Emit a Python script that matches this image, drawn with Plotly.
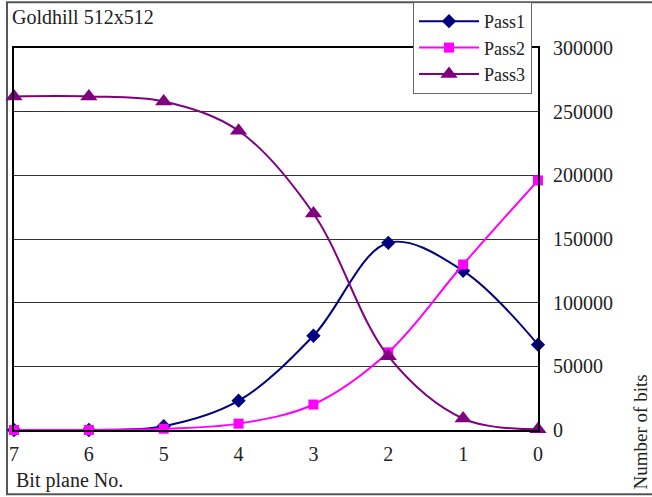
import plotly.graph_objects as go

# Bit planes, most significant first
bit_planes = [7, 6, 5, 4, 3, 2, 1, 0]
tick_labels = ["7", "6", "5", "4", "3", "2", "1", "0"]

# Number of bits produced by each coding pass per bit plane
pass1 = [0, 0, 3000, 23000, 74000, 147000, 125000, 67000]
pass2 = [0, 0, 1000, 5000, 20000, 61000, 130000, 196000]
pass3 = [262000, 262000, 258000, 235000, 170000, 58000, 9000, 500]

series = [
    ("Pass1", pass1, "#000080", "diamond", 11),
    ("Pass2", pass2, "#FF00FF", "square", 10),
    ("Pass3", pass3, "#800080", "triangle-up", 15),
]

FONT = "Liberation Serif"
TEXT = "#222"

fig = go.Figure()
for name, vals, color, symbol, size in series:
    fig.add_trace(go.Scatter(
        x=bit_planes, y=vals, name=name, mode="lines+markers",
        line=dict(color=color, width=2, shape="spline", smoothing=1.0),
        marker=dict(symbol=symbol, size=size, color=color),
        cliponaxis=False,
    ))

fig.update_layout(
    width=652, height=497,
    margin=dict(l=14, r=114, t=48, b=67, autoexpand=False),
    paper_bgcolor="white", plot_bgcolor="white",
    font=dict(family=FONT, size=20, color=TEXT),
    showlegend=True,
    legend=dict(
        xref="container", yref="container",
        x=413 / 652, y=1 - 2 / 497, xanchor="left", yanchor="top",
        bgcolor="white", bordercolor="#666", borderwidth=1,
        font=dict(family=FONT, size=18, color=TEXT),
        itemwidth=60, tracegroupgap=0,
    ),
    xaxis=dict(
        range=[7, 0], tickvals=bit_planes, ticktext=tick_labels,
        showgrid=False, zeroline=False,
        showline=True, linecolor="black", linewidth=2, mirror=True,
        ticks="", ticklabelstandoff=5,
    ),
    yaxis=dict(
        side="right", range=[0, 300000], dtick=50000, tickformat="d",
        showgrid=True, gridcolor="#333", gridwidth=1, zeroline=False,
        showline=True, linecolor="black", linewidth=2, mirror=True,
        ticks="", ticklabelstandoff=9,
    ),
)

# Chart title, x-axis caption and rotated y-axis caption
fig.add_annotation(text="Goldhill 512x512", xref="paper", yref="paper",
                   x=-0.008, y=1.081, xanchor="left", yanchor="middle",
                   showarrow=False, font=dict(family=FONT, size=20, color=TEXT))
fig.add_annotation(text="Bit plane No.", xref="paper", yref="paper",
                   x=0.0, y=-0.1335, xanchor="left", yanchor="middle",
                   showarrow=False, font=dict(family=FONT, size=20, color=TEXT))
fig.add_annotation(text="Number of bits", xref="paper", yref="paper",
                   x=1.1947, y=-0.162, xanchor="center", yanchor="bottom",
                   textangle=-90, showarrow=False,
                   font=dict(family=FONT, size=19, color=TEXT))

# Outer chart frame
fig.add_shape(type="rect", xref="paper", yref="paper",
              x0=-0.0134, x1=1.3, y0=-0.168, y1=1.12,
              line=dict(color="#555", width=2), layer="below")

fig.write_html("out.html")
